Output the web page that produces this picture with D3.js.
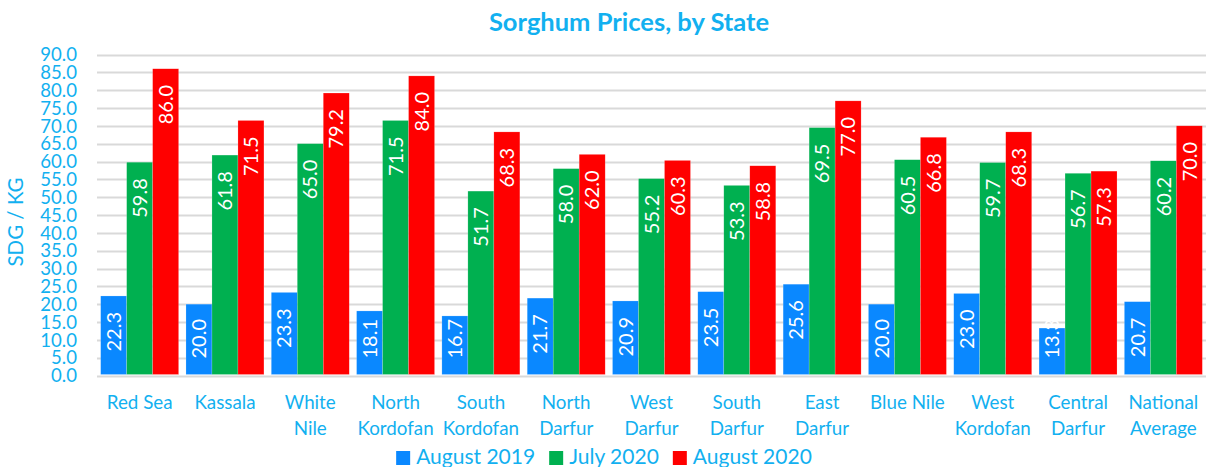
<!DOCTYPE html>
<html>
<head>
<meta charset="utf-8">
<script src="https://cdn.jsdelivr.net/npm/d3@7"></script>
<style>
  body { margin: 0; background: #fff; }
  text { font-family: Lato, "Open Sans", sans-serif; }
</style>
</head>
<body>
<div id="chart"></div>
<script>
// data
const states = ["Red Sea", "Kassala", "White Nile", "North Kordofan", "South Kordofan", "North Darfur",
  "West Darfur", "South Darfur", "East Darfur", "Blue Nile", "West Kordofan", "Central Darfur", "National Average"];
const stateLines = [["Red Sea"], ["Kassala"], ["White", "Nile"], ["North", "Kordofan"], ["South", "Kordofan"],
  ["North", "Darfur"], ["West", "Darfur"], ["South", "Darfur"], ["East", "Darfur"], ["Blue Nile"],
  ["West", "Kordofan"], ["Central", "Darfur"], ["National", "Average"]];
const seriesNames = ["August 2019", "July 2020", "August 2020"];
const aug2019 = [22.3, 20.0, 23.3, 18.1, 16.7, 21.7, 20.9, 23.5, 25.6, 20.0, 23.0, 13.3, 20.7];
const jul2020 = [59.8, 61.8, 65.0, 71.5, 51.7, 58.0, 55.2, 53.3, 69.5, 60.5, 59.7, 56.7, 60.2];
const aug2020 = [86.0, 71.5, 79.2, 84.0, 68.3, 62.0, 60.3, 58.8, 77.0, 66.8, 68.3, 57.3, 70.0];
const yTicks = d3.range(0, 90.01, 5);

const colors = ["#0A88FF", "#00B050", "#FF0000"];
const textColor = "#12B0F0";
const W = 1209, H = 467;

const svg = d3.select("#chart").append("svg")
  .attr("width", W).attr("height", H);

const x0 = d3.scaleBand().domain(states).range([97, 1206])
  .paddingInner(0.086).paddingOuter(0.043);
const x1 = d3.scaleBand().domain(seriesNames).range([0, x0.bandwidth()]);
const y = d3.scaleLinear().domain([0, 90]).range([375.5, 54.5]);

// title
svg.append("text")
  .attr("x", 629).attr("y", 31)
  .attr("text-anchor", "middle")
  .style("font-weight", "bold").style("font-size", "25.5px")
  .attr("fill", textColor)
  .text("Sorghum Prices, by State");

// gridlines
svg.append("g").selectAll("line").data(yTicks).join("line")
  .attr("x1", 97).attr("x2", 1206)
  .attr("y1", d => Math.round(y(d)) + 0.5).attr("y2", d => Math.round(y(d)) + 0.5)
  .attr("stroke", "#d9d9d9").attr("stroke-width", 2);

// y tick labels
svg.append("g").selectAll("text").data(yTicks).join("text")
  .attr("x", 77).attr("y", d => y(d))
  .attr("dy", "0.36em")
  .attr("text-anchor", "end")
  .style("font-size", "18.6px")
  .attr("fill", textColor)
  .text(d => d3.format(".1f")(d));

// y axis title
svg.append("text")
  .attr("transform", "translate(23,222) rotate(-90)")
  .attr("text-anchor", "middle")
  .style("font-size", "20.5px")
  .attr("fill", textColor)
  .text("SDG / KG");

const allSeries = [aug2019, jul2020, aug2020];

const groups = svg.append("g").selectAll("g").data(states).join("g")
  .attr("transform", d => "translate(" + x0(d) + ",0)");

groups.each(function(state, i) {
  const g = d3.select(this);
  seriesNames.forEach((name, s) => {
    const v = allSeries[s][i];
    g.append("rect")
      .attr("x", x1(name)).attr("width", x1.bandwidth())
      .attr("y", y(v)).attr("height", y(0) - y(v) - 1)
      .attr("fill", colors[s])
      .attr("stroke", "rgba(255,255,255,0.35)").attr("stroke-width", 0.5);
  });
  seriesNames.forEach((name, s) => {
    const v = allSeries[s][i];
    const cx = x1(name) + x1.bandwidth() / 2;
    const t = g.append("text")
      .attr("text-anchor", "start")
      .attr("dy", "0.36em")
      .style("font-size", "20px")
      .attr("fill", "#fff")
      .text(v.toFixed(1));
    const len = t.node().getComputedTextLength();
    // inside end; if the bar is too short, start from near the base instead
    let start = y(v) + 16 + len;
    if (start > y(0) - 17) start = y(0) - 17;
    t.attr("transform", "translate(" + cx + "," + start + ") rotate(-90)");
  });
});

// x category labels
const xl = svg.append("g").selectAll("text").data(states).join("text")
  .attr("text-anchor", "middle")
  .style("font-size", "18.8px")
  .attr("fill", textColor);
xl.each(function(d, i) {
  const t = d3.select(this);
  stateLines[i].forEach((line, k) => {
    t.append("tspan")
      .attr("x", x0(d) + x0.bandwidth() / 2)
      .attr("y", 409 + k * 26)
      .text(line);
  });
});

// legend
const legend = svg.append("g");
let lx = 0;
seriesNames.forEach((name, s) => {
  const item = legend.append("g").attr("transform", "translate(" + lx + ",0)");
  item.append("rect").attr("x", 0).attr("y", 451).attr("width", 14).attr("height", 14)
    .attr("fill", colors[s]);
  const t = item.append("text").attr("x", 20).attr("y", 464)
    .style("font-size", "21px").attr("fill", textColor).text(name);
  lx += 20 + t.node().getComputedTextLength() + 14;
});
const legendW = lx - 14;
legend.attr("transform", "translate(" + (604 - legendW / 2) + ",0)");
</script>
</body>
</html>
